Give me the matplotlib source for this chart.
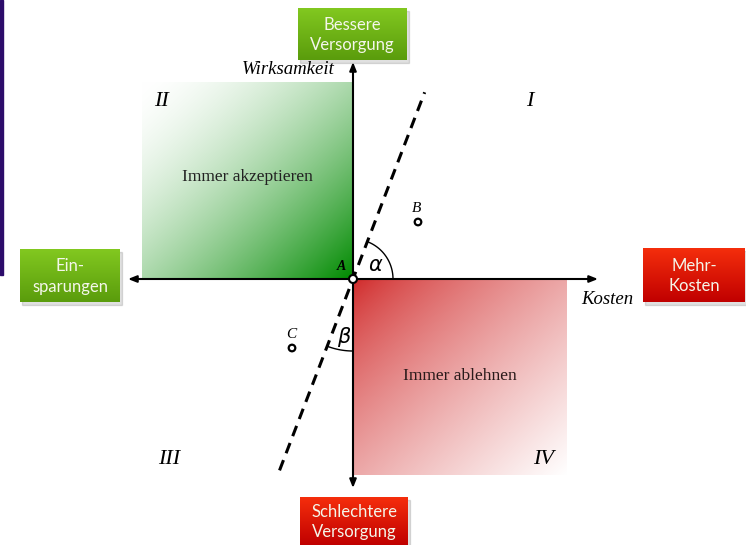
#!/usr/bin/env python3
import numpy as np
import matplotlib
matplotlib.use("Agg")
import matplotlib.pyplot as plt
from matplotlib.patches import Rectangle, Circle
from matplotlib.colors import to_rgb

# diagram data (pixel space of the 746x545 canvas, y pointing down)
origin = (353, 279)
line_angle_deg = 69
points = {"B": (418, 222), "C": (292, 348)}
quadrant_labels = ["I", "II", "III", "IV"]
quadrant_pos = [(530, 101), (161, 101), (169, 460), (544, 460)]
box_labels = ["Bessere\nVersorgung", "Ein-\nsparungen", "Mehr-\nKosten", "Schlechtere\nVersorgung"]
box_kind = ["good", "good", "bad", "bad"]
box_rects = [(298, 8, 109, 52), (20, 249, 100, 53), (643, 248, 102, 54), (300, 497, 108, 48)]

W, H = 746, 545
fig = plt.figure(figsize=(W / 100, H / 100), dpi=100)
ax = fig.add_axes([0, 0, 1, 1])
ax.set_xlim(0, W)
ax.set_ylim(H, 0)
ax.axis("off")

serif = "Liberation Serif"
sans = "Lato"


def diag_gradient(x0, y0, w, h, c_start, c_end, power=1.0, z=1):
    # gradient from top-left (c_start) to bottom-right (c_end)
    n = 200
    u = np.linspace(0, 1, n)
    uu, vv = np.meshgrid(u, u)
    t = ((uu + vv) / 2) ** power
    a = np.array(to_rgb(c_start))
    b = np.array(to_rgb(c_end))
    img = a[None, None, :] * (1 - t[..., None]) + b[None, None, :] * t[..., None]
    ax.imshow(img, extent=(x0, x0 + w, y0 + h, y0), aspect="auto", zorder=z,
              interpolation="bilinear")


# purple strip at the left edge
ax.add_patch(Rectangle((0, 0), 3, 275, color="#2c0c6a", zorder=5))

# quadrant shading
diag_gradient(142, 82, 211, 197, "#ffffff", "#008a00", power=1.6)
diag_gradient(354, 280, 213, 195, "#d02828", "#ffffff", power=0.75)

ax.text(247, 177, "Immer akzeptieren", family=serif, fontsize=12.5, color="#222222",
        ha="center", va="center", zorder=3)
ax.text(460, 376, "Immer ablehnen", family=serif, fontsize=12.5, color="#2a1a1a",
        ha="center", va="center", zorder=3)

# axes with arrows
ox, oy = origin
arrow = dict(arrowstyle="-|>,head_length=0.5,head_width=0.2", color="black", lw=1.5,
             shrinkA=0, shrinkB=0)
ax.annotate("", xy=(598, oy), xytext=(ox, oy), arrowprops=arrow, zorder=4)
ax.annotate("", xy=(128, oy), xytext=(ox, oy), arrowprops=arrow, zorder=4)
ax.annotate("", xy=(ox, 62), xytext=(ox, oy), arrowprops=arrow, zorder=4)
ax.annotate("", xy=(ox, 488), xytext=(ox, oy), arrowprops=arrow, zorder=4)

ax.text(288, 69, "Wirksamkeit", family=serif, style="italic", fontsize=13.5,
        ha="center", va="center", zorder=4)
ax.text(607, 300, "Kosten", family=serif, style="italic", fontsize=13.5,
        ha="center", va="center", zorder=4)

# threshold line through the origin
th = np.deg2rad(line_angle_deg)
r = np.array([-205, 200])
ax.plot(ox + r * np.cos(th), oy - r * np.sin(th), color="black", lw=2.2,
        dashes=(3.6, 2.4), zorder=4)

# angle arcs
phi = np.linspace(0, th, 60)
ax.plot(ox + 40 * np.cos(phi), oy - 40 * np.sin(phi), color="black", lw=1.0, zorder=4)
phi = np.linspace(np.pi + th, 1.5 * np.pi, 60)
ax.plot(ox + 72 * np.cos(phi), oy - 72 * np.sin(phi), color="black", lw=1.0, zorder=4)
ax.text(376, 265, r"$\alpha$", fontsize=15, ha="center", va="center", zorder=4)
ax.text(344, 337, r"$\beta$", fontsize=15, ha="center", va="center", zorder=4)

# origin point A
ax.add_patch(Circle(origin, 4, facecolor="white", edgecolor="black", lw=1.5, zorder=6))
ax.text(341, 266, "A", family=serif, style="italic", weight="bold", fontsize=10,
        ha="center", va="center", zorder=6)

# points B and C
for name, (px, py) in points.items():
    ax.add_patch(Circle((px, py), 3.3, facecolor="white", edgecolor="black", lw=1.6, zorder=6))
    ax.text(px - 1, py - 14, name, family=serif, style="italic", fontsize=11,
            ha="center", va="center", zorder=6)

# quadrant numerals
for lab, (qx, qy) in zip(quadrant_labels, quadrant_pos):
    ax.text(qx, qy, lab, family=serif, style="italic", fontsize=16,
            ha="center", va="center", zorder=4)

# coloured label boxes
colors = {"good": ("#82c820", "#5a9c0c"), "bad": ("#f52e0c", "#c00000")}
for lab, kind, (bx, by, bw, bh) in zip(box_labels, box_kind, box_rects):
    ax.add_patch(Rectangle((bx + 2, by + 3), bw, bh, color="#000000", alpha=0.12, zorder=6))
    top, bot = colors[kind]
    t = np.linspace(0, 1, 100)[:, None]
    img = np.array(to_rgb(top))[None, None, :] * (1 - t[..., None]) + \
        np.array(to_rgb(bot))[None, None, :] * t[..., None]
    img = np.repeat(img, 2, axis=1)
    ax.imshow(img, extent=(bx, bx + bw, by + bh, by), aspect="auto", zorder=7)
    ax.text(bx + bw / 2, by + bh / 2 + 1, lab, family=sans, fontsize=12, color="#f4f6ea",
            ha="center", va="center", linespacing=1.35, zorder=8)

ax.set_xlim(0, W)
ax.set_ylim(H, 0)
fig.savefig("out.png", dpi=100)
